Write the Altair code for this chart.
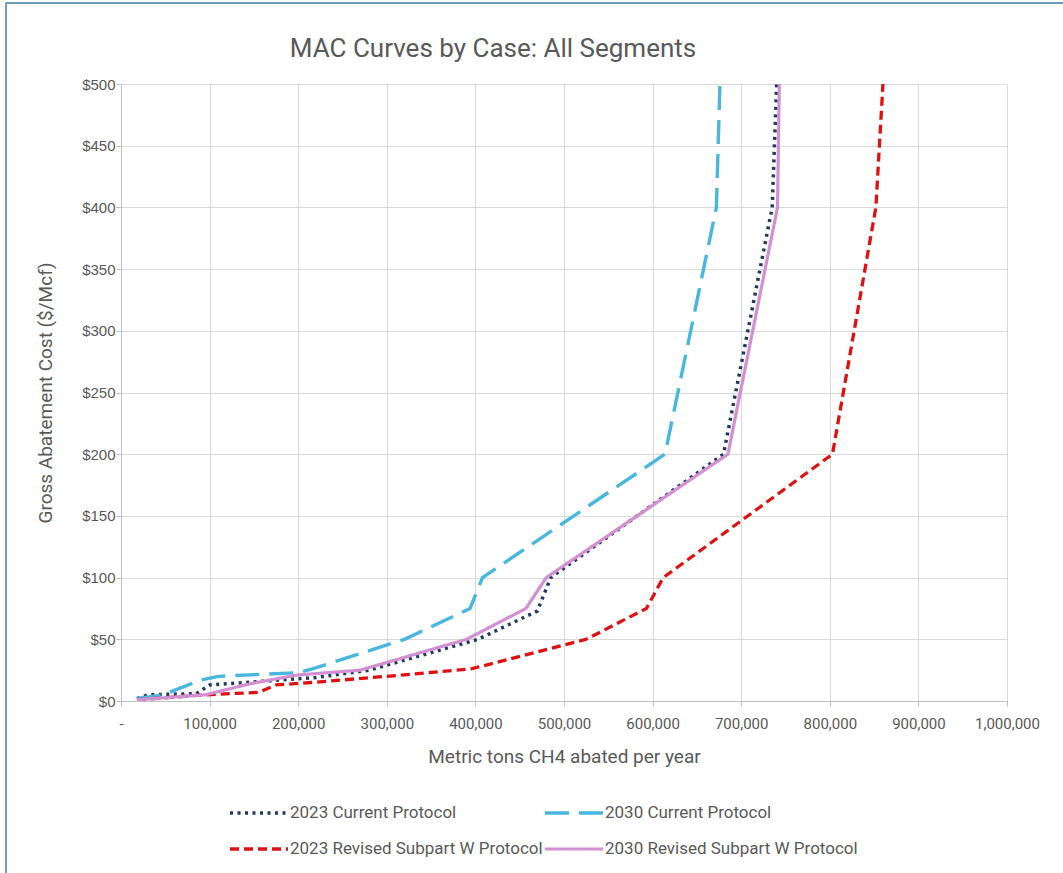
import altair as alt
import pandas as pd

# Marginal abatement cost curves: cumulative CH4 abated (t/yr) vs. cost ($/Mcf)
series_names = [
    "2023 Current Protocol",
    "2030 Current Protocol",
    "2023 Revised Subpart W Protocol",
    "2030 Revised Subpart W Protocol",
]

cur_2023_x = [18000, 30000, 85000, 100000, 160000, 220000, 280000, 403000, 470000, 485000, 680000, 735000, 740000]
cur_2023_y = [2, 5, 6, 13, 16, 19, 25, 50, 73, 100, 200, 400, 500]

cur_2030_x = [18000, 50000, 58000, 90000, 110000, 200000, 216000, 320000, 394000, 408000, 614000, 672000, 676000]
cur_2030_y = [2, 5, 8, 17, 20, 23, 26, 50, 75, 100, 200, 400, 500]

rev_2023_x = [18000, 95000, 155000, 175000, 215000, 300000, 395000, 525000, 593000, 612000, 803000, 852000, 860000]
rev_2023_y = [1, 5, 7, 13, 15, 20, 26, 50, 75, 100, 200, 400, 500]

rev_2030_x = [18000, 95000, 146000, 198000, 270000, 390000, 457000, 480000, 685000, 741000, 743000]
rev_2030_y = [1, 5, 14, 21, 25, 50, 75, 100, 200, 400, 500]

x_ticks = list(range(0, 1000001, 100000))
y_ticks = list(range(0, 501, 50))

line_colors = ["#1F3A5F", "#48B7E0", "#E01010", "#D48FD4"]
line_dashes = [[3, 4.5], [24, 10], [9, 5], [1, 0]]
line_widths = [3.5, 3.2, 3.5, 4.8]

rows = []
for name, xs, ys in zip(
    series_names,
    [cur_2023_x, cur_2030_x, rev_2023_x, rev_2030_x],
    [cur_2023_y, cur_2030_y, rev_2023_y, rev_2030_y],
):
    for i, (xv, yv) in enumerate(zip(xs, ys)):
        rows.append({"Case": name, "Abated": xv, "Cost": yv, "idx": i})
df = pd.DataFrame(rows)

TEXT = "#595959"
FONT = "Roboto, Liberation Sans, sans-serif"
REGULAR = "Liberation Sans, Arial, sans-serif"

legend = alt.Legend(
    title=None,
    orient="none",
    direction="horizontal",
    legendX=107,
    legendY=719,
    columns=2,
    columnPadding=-10,
    rowPadding=16,
    clipHeight=20,
    symbolType="stroke",
    symbolSize=3364,
    labelFont=FONT,
    labelFontSize=17,
    labelColor=TEXT,
    labelOffset=0,
    labelLimit=400,
)

lines = (
    alt.Chart(df)
    .mark_line(clip=True)
    .encode(
        x=alt.X(
            "Abated:Q",
            scale=alt.Scale(domain=[0, 1000000], nice=False),
            axis=alt.Axis(
                values=x_ticks,
                labelExpr="datum.value == 0 ? '-' : format(datum.value, ',')",
                labelOverlap=False,
                labelFlush=False,
                title="Metric tons CH4 abated per year",
                titlePadding=16,
                labelPadding=10,
                labelFont=FONT,
                labelFontSize=15,
            ),
        ),
        y=alt.Y(
            "Cost:Q",
            scale=alt.Scale(domain=[0, 500], nice=False),
            axis=alt.Axis(
                values=y_ticks,
                labelExpr="'$' + datum.value",
                title="Gross Abatement Cost ($/Mcf)",
                titlePadding=26,
                labelPadding=1,
                labelFont=REGULAR,
                labelFontSize=15,
            ),
        ),
        color=alt.Color(
            "Case:N",
            scale=alt.Scale(domain=series_names, range=line_colors),
            legend=legend,
        ),
        strokeDash=alt.StrokeDash(
            "Case:N",
            scale=alt.Scale(domain=series_names, range=line_dashes),
            legend=legend,
        ),
        strokeWidth=alt.StrokeWidth(
            "Case:N",
            scale=alt.Scale(domain=series_names, range=line_widths),
            legend=legend,
        ),
        order="idx:Q",
    )
)

# thin blue frame along the left and top edges of the chart area
frame_left = alt.Chart().mark_rule(color="#3A7CA5", strokeWidth=1.5).encode(
    x=alt.value(-115), y=alt.value(-81), y2=alt.value(789)
)
frame_top = alt.Chart().mark_rule(color="#3A7CA5", strokeWidth=1.5).encode(
    x=alt.value(-115), x2=alt.value(942), y=alt.value(-81)
)

chart = (
    alt.layer(lines, frame_left, frame_top)
    .properties(
        width=886,
        height=617,
        autosize=alt.AutoSizeParams(type="none"),
        padding={"left": 121, "top": 84, "right": 56, "bottom": 172},
        title=alt.Title(
            "MAC Curves by Case: All Segments",
            font=FONT,
            fontSize=26,
            fontWeight="normal",
            color=TEXT,
            anchor="middle",
            dx=-71,
            dy=74,
            offset=14,
        ),
    )
    .configure_view(stroke=None)
    .configure_axis(
        gridColor="#D9D9D9",
        gridWidth=1,
        domainColor="#BFBFBF",
        tickColor="#BFBFBF",
        tickSize=5,
        labelColor=TEXT,
        titleColor=TEXT,
        titleFont=FONT,
        titleFontSize=19,
        titleFontWeight="normal",
    )
)

chart.save("out.html", embed_options={"renderer": "svg", "actions": False})
